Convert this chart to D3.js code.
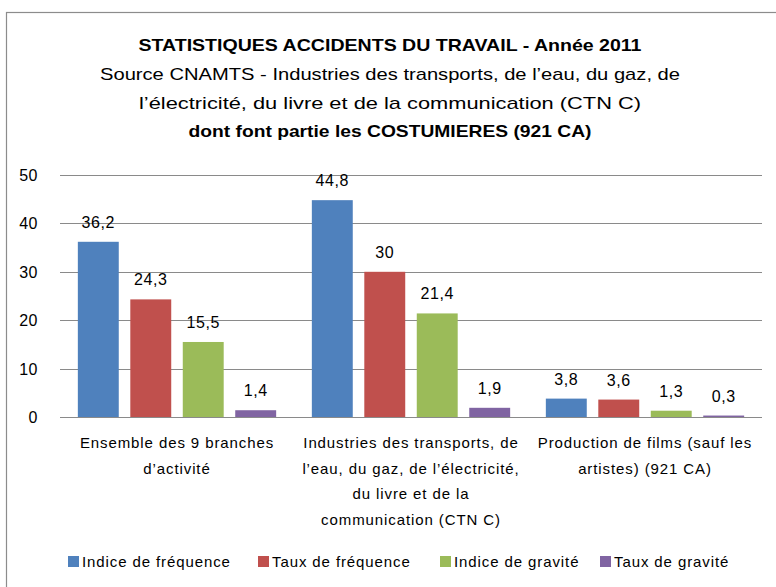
<!DOCTYPE html>
<html>
<head>
<meta charset="utf-8">
<script src="https://cdn.jsdelivr.net/npm/d3@7"></script>
<style>
  body { margin: 0; background: #fff; }
  text { font-family: "Liberation Sans", Arial, sans-serif; fill: #000; }
</style>
</head>
<body>
<script>
const categories = [
  ["Ensemble des 9 branches", "d’activité"],
  ["Industries des transports, de", "l’eau, du gaz, de l’électricité,", "du livre et de la", "communication (CTN C)"],
  ["Production de films (sauf les", "artistes) (921 CA)"]
]
const seriesNames = ["Indice de fréquence", "Taux de fréquence", "Indice de gravité", "Taux de gravité"]
const seriesColors = ["#4F81BD", "#C0504D", "#9BBB59", "#8064A2"]
const indiceFrequence = [36.2, 44.8, 3.8]
const tauxFrequence = [24.3, 30, 3.6]
const indiceGravite = [15.5, 21.4, 1.3]
const tauxGravite = [1.4, 1.9, 0.3]
const yTicks = [0, 10, 20, 30, 40, 50]
const titleLines = [
  "STATISTIQUES ACCIDENTS DU TRAVAIL - Année 2011",
  "Source CNAMTS - Industries des transports, de l’eau, du gaz, de",
  "l’électricité, du livre et de la communication (CTN C)",
  "dont font partie les COSTUMIERES (921 CA)"
]

const values = [indiceFrequence, tauxFrequence, indiceGravite, tauxGravite]

const m = { width: 776, height: 587 }
const plot = { left: 60, right: 762, top: 175, bottom: 417 }

const svg = d3.select("body").append("svg")
  .attr("width", m.width)
  .attr("height", m.height)

// chart frame, runs off the right and bottom edges
svg.append("rect")
  .attr("x", 6.5).attr("y", 12.5)
  .attr("width", 800).attr("height", 600)
  .attr("fill", "#fff")
  .attr("stroke", "#8c8c8c")
  .attr("stroke-width", 1.2)

// title
const titleY = [51, 80, 109, 137]
const titleWeight = ["bold", "normal", "normal", "bold"]
const titleLen = [503, 580, 502, 403]
titleLines.forEach((t, i) => {
  svg.append("text")
    .attr("x", 390).attr("y", titleY[i])
    .attr("text-anchor", "middle")
    .attr("font-size", 17)
    .attr("font-weight", titleWeight[i])
    .attr("textLength", titleLen[i])
    .attr("lengthAdjust", "spacingAndGlyphs")
    .text(t)
})

const y = d3.scaleLinear().domain([0, 50]).range([plot.bottom, plot.top])
const x0 = d3.scaleBand().domain(d3.range(categories.length)).range([plot.left, plot.right])
const x1 = d3.scaleBand().domain(d3.range(seriesNames.length))
  .range([0, x0.bandwidth()]).paddingInner(0.22).paddingOuter(0.34)

// grid
svg.append("g")
  .selectAll("line")
  .data(yTicks)
  .enter()
  .append("line")
    .attr("x1", plot.left).attr("x2", plot.right)
    .attr("y1", d => Math.round(y(d)) + 0.5)
    .attr("y2", d => Math.round(y(d)) + 0.5)
    .attr("stroke", "#8a8a8a")
    .attr("stroke-width", 1)

// y labels
svg.append("g")
  .selectAll("text")
  .data(yTicks)
  .enter()
  .append("text")
    .attr("x", 38).attr("y", d => y(d) + 6)
    .attr("text-anchor", "end")
    .attr("font-size", 16)
    .attr("letter-spacing", 0.5)
    .text(d => d)

// bars
const groups = svg.append("g")
  .selectAll("g")
  .data(categories.map((c, i) => i))
  .enter()
  .append("g")
    .attr("transform", i => `translate(${x0(i)},0)`)

groups.selectAll("rect")
  .data(i => values.map((s, k) => ({ k: k, v: s[i] })))
  .enter()
  .append("rect")
    .attr("x", d => x1(d.k))
    .attr("width", x1.bandwidth())
    .attr("y", d => y(d.v))
    .attr("height", d => plot.bottom - y(d.v))
    .attr("fill", d => seriesColors[d.k])

groups.selectAll(".lbl")
  .data(i => values.map((s, k) => ({ k: k, v: s[i] })))
  .enter()
  .append("text")
    .attr("class", "lbl")
    .attr("x", d => x1(d.k) + x1.bandwidth() / 2)
    .attr("y", d => y(d.v) - 14)
    .attr("text-anchor", "middle")
    .attr("font-size", 16)
    .attr("letter-spacing", 0.6)
    .text(d => String(d.v).replace(".", ","))

// category labels
groups.each(function(i) {
  const g = d3.select(this)
  categories[i].forEach((line, j) => {
    g.append("text")
      .attr("x", x0.bandwidth() / 2)
      .attr("y", 448 + j * 25.5)
      .attr("text-anchor", "middle")
      .attr("font-size", 15)
      .attr("letter-spacing", 0.9)
      .text(line)
  })
})

// legend
const legendX = [68, 258, 440, 600]
const legend = svg.append("g")
  .selectAll("g")
  .data(seriesNames)
  .enter()
  .append("g")
    .attr("transform", (d, i) => `translate(${legendX[i]},556)`)
legend.append("rect")
  .attr("width", 11).attr("height", 11)
  .attr("fill", (d, i) => seriesColors[i])
legend.append("text")
  .attr("x", 14).attr("y", 11)
  .attr("font-size", 15)
  .attr("letter-spacing", 0.9)
  .text(d => d)
</script>
</body>
</html>
